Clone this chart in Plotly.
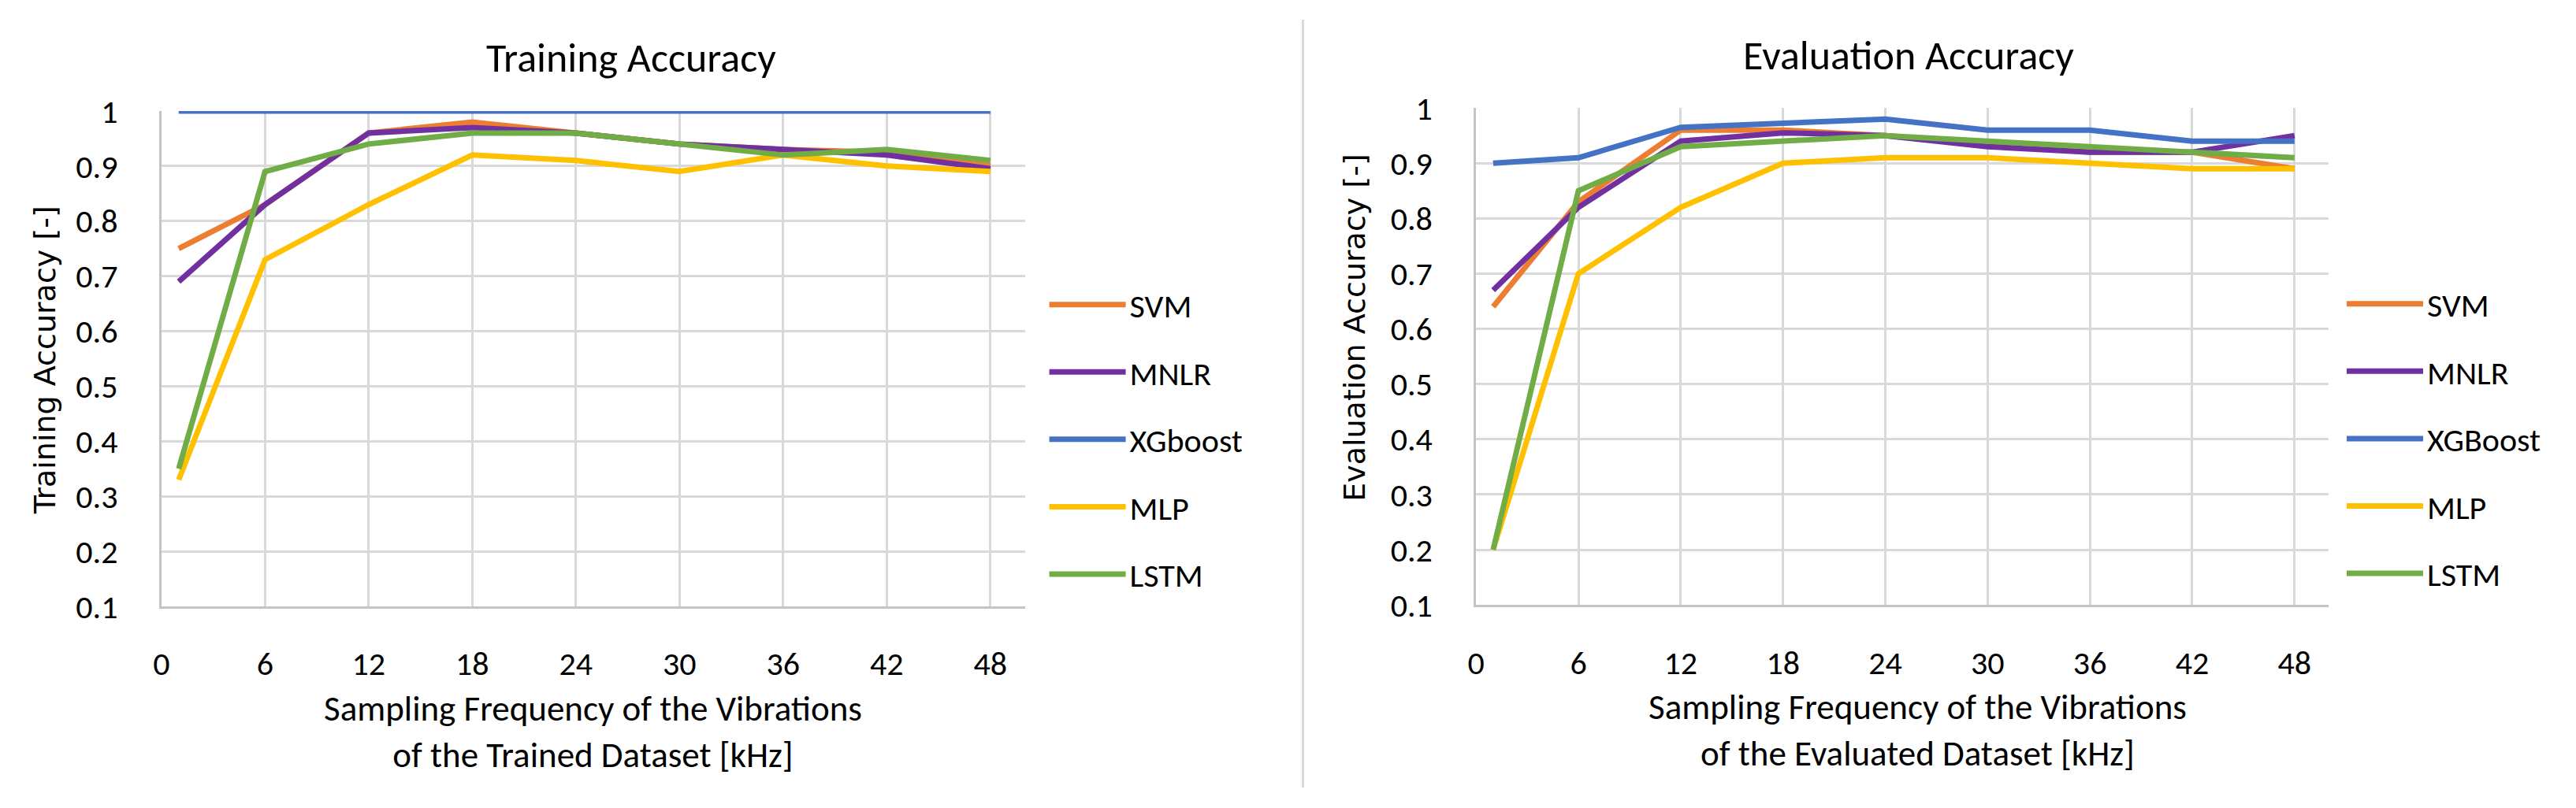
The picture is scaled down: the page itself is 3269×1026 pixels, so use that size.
import plotly.graph_objects as go

W, H = 3269, 1026

# ---------------- data ----------------
freq_khz = [1, 6, 12, 18, 24, 30, 36, 42, 48]
model_names_train = ["SVM", "MNLR", "XGboost", "MLP", "LSTM"]
model_names_eval = ["SVM", "MNLR", "XGBoost", "MLP", "LSTM"]

train_svm = [0.75, 0.83, 0.96, 0.98, 0.96, 0.94, 0.93, 0.925, 0.90]
train_mnlr = [0.69, 0.83, 0.96, 0.97, 0.96, 0.94, 0.93, 0.92, 0.895]
train_xgb = [1.0, 1.0, 1.0, 1.0, 1.0, 1.0, 1.0, 1.0, 1.0]
train_mlp = [0.33, 0.73, 0.83, 0.92, 0.91, 0.89, 0.92, 0.90, 0.89]
train_lstm = [0.35, 0.89, 0.94, 0.96, 0.96, 0.94, 0.92, 0.93, 0.91]

eval_svm = [0.64, 0.83, 0.96, 0.96, 0.95, 0.935, 0.92, 0.92, 0.89]
eval_mnlr = [0.67, 0.82, 0.94, 0.955, 0.95, 0.93, 0.92, 0.92, 0.95]
eval_xgb = [0.90, 0.91, 0.965, 0.972, 0.98, 0.96, 0.96, 0.94, 0.94]
eval_mlp = [0.20, 0.70, 0.82, 0.90, 0.91, 0.91, 0.90, 0.89, 0.89]
eval_lstm = [0.20, 0.85, 0.93, 0.94, 0.95, 0.94, 0.93, 0.92, 0.91]

x_tick_vals = [0, 6, 12, 18, 24, 30, 36, 42, 48]
y_tick_vals = [0.1, 0.2, 0.3, 0.4, 0.5, 0.6, 0.7, 0.8, 0.9, 1.0]
y_tick_text = ["0.1", "0.2", "0.3", "0.4", "0.5", "0.6", "0.7", "0.8", "0.9", "1"]

colors = ["#ED7D31", "#7030A0", "#4472C4", "#FFC000", "#70AD47"]

# ---------------- styling ----------------
CAL = "Carlito, Lato, sans-serif"
VER = "DejaVu Sans, Verdana, sans-serif"
TICK_SIZE = 42
LEG_SIZE = 42
XT_SIZE = 45
TITLE_SIZE = 52
YT_SIZE = 38
LINE_W = 7
GRID = "#d9d9d9"
AXLINE = "#c4c4c4"

def px_x(p):
    return p / W

def px_y(p):
    return 1 - p / H

fig = go.Figure()

train_series = [train_svm, train_mnlr, train_xgb, train_mlp, train_lstm]
eval_series = [eval_svm, eval_mnlr, eval_xgb, eval_mlp, eval_lstm]

for name, ys, c in zip(model_names_train, train_series, colors):
    fig.add_trace(go.Scatter(
        x=freq_khz, y=ys, mode="lines", name=name,
        line=dict(color=c, width=LINE_W),
        xaxis="x", yaxis="y", legend="legend", legendgroup="t_" + name,
    ))

for name, ys, c in zip(model_names_eval, eval_series, colors):
    fig.add_trace(go.Scatter(
        x=freq_khz, y=ys, mode="lines", name=name,
        line=dict(color=c, width=LINE_W),
        xaxis="x2", yaxis="y2", legend="legend2", legendgroup="e_" + name,
    ))

def xaxis(domain, anchor):
    return dict(
        domain=domain, anchor=anchor, range=[0, 50],
        tickvals=x_tick_vals, showgrid=True, gridcolor=GRID, gridwidth=3,
        showline=True, linecolor=AXLINE, linewidth=3, zeroline=False,
        ticks="", ticklabelstandoff=34,
        tickfont=dict(family=CAL, size=TICK_SIZE, color="#000000"),
        fixedrange=True,
    )

def yaxis(domain, anchor):
    return dict(
        domain=domain, anchor=anchor, range=[0.1, 1.0],
        tickvals=y_tick_vals, ticktext=y_tick_text,
        showgrid=True, gridcolor=GRID, gridwidth=3,
        showline=True, linecolor=AXLINE, linewidth=3, zeroline=False,
        ticks="", ticklabelstandoff=44,
        tickfont=dict(family=CAL, size=TICK_SIZE, color="#000000"),
        fixedrange=True,
    )

fig.update_layout(
    width=W, height=H, autosize=False,
    margin=dict(l=0, r=0, t=0, b=0, pad=0),
    paper_bgcolor="white", plot_bgcolor="white",
    xaxis=xaxis([px_x(194.5), px_x(1294)], "y"),
    yaxis=yaxis([px_y(784), px_y(122)], "x"),
    xaxis2=xaxis([px_x(1868.5), px_x(2954)], "y2"),
    yaxis2=yaxis([px_y(782), px_y(118)], "x2"),
    legend=dict(
        x=px_x(1320), y=px_y(345), xanchor="left", yanchor="top",
        font=dict(family=CAL, size=LEG_SIZE, color="#000000"),
        tracegroupgap=28, bgcolor="rgba(0,0,0,0)", itemwidth=97,
    ),
    legend2=dict(
        x=px_x(2972), y=px_y(344), xanchor="left", yanchor="top",
        font=dict(family=CAL, size=LEG_SIZE, color="#000000"),
        tracegroupgap=28, bgcolor="rgba(0,0,0,0)", itemwidth=97,
    ),
    showlegend=True,
)

annotations = [
    dict(text="Training Accuracy", x=px_x(793), y=px_y(51),
         font=dict(family=CAL, size=TITLE_SIZE, color="#000000")),
    dict(text="Evaluation Accuracy", x=px_x(2419), y=px_y(47),
         font=dict(family=CAL, size=TITLE_SIZE, color="#000000")),
    dict(text="Sampling Frequency of the Vibrations<br>of the Trained Dataset [kHz]",
         x=px_x(744), y=px_y(951.5),
         font=dict(family=CAL, size=XT_SIZE, color="#000000")),
    dict(text="Sampling Frequency of the Vibrations<br>of the Evaluated Dataset [kHz]",
         x=px_x(2431), y=px_y(949),
         font=dict(family=CAL, size=XT_SIZE, color="#000000")),
    dict(text="Training Accuracy [-]", x=px_x(47), y=px_y(455), textangle=-90,
         font=dict(family=VER, size=YT_SIZE, color="#000000")),
    dict(text="Evaluation Accuracy [-]", x=px_x(1713), y=px_y(411), textangle=-90,
         font=dict(family=VER, size=YT_SIZE, color="#000000")),
]
for a in annotations:
    a.update(xref="paper", yref="paper", showarrow=False,
             xanchor="center", yanchor="middle")
fig.update_layout(annotations=annotations)

fig.add_shape(type="line", xref="paper", yref="paper",
              x0=px_x(1648), x1=px_x(1648), y0=0, y1=1,
              line=dict(color=GRID, width=3))

fig.write_html(
    "out.html",
    config={"responsive": False, "displayModeBar": False},
    post_script="document.body.style.margin='0';document.body.style.padding='0';"
                "document.documentElement.style.overflow='hidden';",
)
